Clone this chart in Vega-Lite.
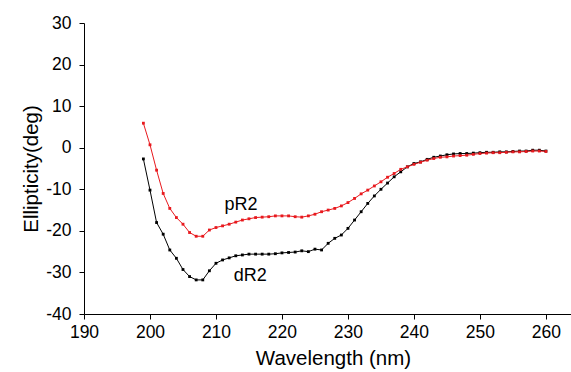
{
  "$schema": "https://vega.github.io/schema/vega-lite/v6.json",
  "width": 487,
  "height": 291,
  "autosize": "none",
  "padding": {"left": 84, "top": 23, "right": 0, "bottom": 58},
  "background": "white",
  "config": {
    "view": {"stroke": null},
    "font": "Liberation Sans",
    "axis": {
      "grid": false,
      "domainColor": "#000000",
      "domainWidth": 1,
      "tickColor": "#000000",
      "tickWidth": 1,
      "labelColor": "#000000",
      "titleColor": "#000000",
      "labelFont": "Liberation Sans",
      "titleFont": "Liberation Sans",
      "labelFontSize": 17.5,
      "titleFontSize": 20.5,
      "titleFontWeight": "normal",
      "labelFlush": false
    }
  },
  "data": {
    "values": [
      {"wl":199,"val":-2.7,"s":"dR2"},{"wl":200,"val":-10.2,"s":"dR2"},{"wl":201,"val":-18.0,"s":"dR2"},{"wl":202,"val":-20.8,"s":"dR2"},{"wl":203,"val":-24.6,"s":"dR2"},{"wl":204,"val":-26.6,"s":"dR2"},{"wl":205,"val":-29.3,"s":"dR2"},{"wl":206,"val":-31.0,"s":"dR2"},{"wl":207,"val":-31.8,"s":"dR2"},{"wl":208,"val":-31.8,"s":"dR2"},{"wl":209,"val":-29.6,"s":"dR2"},{"wl":210,"val":-27.8,"s":"dR2"},{"wl":211,"val":-27.0,"s":"dR2"},{"wl":212,"val":-26.5,"s":"dR2"},{"wl":213,"val":-26.0,"s":"dR2"},{"wl":214,"val":-25.8,"s":"dR2"},{"wl":215,"val":-25.6,"s":"dR2"},{"wl":216,"val":-25.6,"s":"dR2"},{"wl":217,"val":-25.6,"s":"dR2"},{"wl":218,"val":-25.6,"s":"dR2"},{"wl":219,"val":-25.5,"s":"dR2"},{"wl":220,"val":-25.3,"s":"dR2"},{"wl":221,"val":-25.2,"s":"dR2"},{"wl":222,"val":-25.1,"s":"dR2"},{"wl":223,"val":-24.8,"s":"dR2"},{"wl":224,"val":-25.0,"s":"dR2"},{"wl":225,"val":-24.4,"s":"dR2"},{"wl":226,"val":-24.6,"s":"dR2"},{"wl":227,"val":-23.0,"s":"dR2"},{"wl":228,"val":-21.8,"s":"dR2"},{"wl":229,"val":-21.0,"s":"dR2"},{"wl":230,"val":-19.4,"s":"dR2"},{"wl":231,"val":-17.4,"s":"dR2"},{"wl":232,"val":-15.4,"s":"dR2"},{"wl":233,"val":-13.4,"s":"dR2"},{"wl":234,"val":-11.6,"s":"dR2"},{"wl":235,"val":-10.0,"s":"dR2"},{"wl":236,"val":-8.5,"s":"dR2"},{"wl":237,"val":-7.0,"s":"dR2"},{"wl":238,"val":-5.8,"s":"dR2"},{"wl":239,"val":-4.6,"s":"dR2"},{"wl":240,"val":-3.8,"s":"dR2"},{"wl":241,"val":-3.4,"s":"dR2"},{"wl":242,"val":-2.8,"s":"dR2"},{"wl":243,"val":-2.3,"s":"dR2"},{"wl":244,"val":-2.0,"s":"dR2"},{"wl":245,"val":-1.7,"s":"dR2"},{"wl":246,"val":-1.5,"s":"dR2"},{"wl":247,"val":-1.4,"s":"dR2"},{"wl":248,"val":-1.4,"s":"dR2"},{"wl":249,"val":-1.3,"s":"dR2"},{"wl":250,"val":-1.2,"s":"dR2"},{"wl":251,"val":-1.1,"s":"dR2"},{"wl":252,"val":-1.1,"s":"dR2"},{"wl":253,"val":-1.0,"s":"dR2"},{"wl":254,"val":-1.0,"s":"dR2"},{"wl":255,"val":-0.9,"s":"dR2"},{"wl":256,"val":-0.8,"s":"dR2"},{"wl":257,"val":-0.8,"s":"dR2"},{"wl":258,"val":-0.6,"s":"dR2"},{"wl":259,"val":-0.6,"s":"dR2"},{"wl":260,"val":-0.8,"s":"dR2"},
      {"wl":199,"val":5.9,"s":"pR2"},{"wl":200,"val":0.7,"s":"pR2"},{"wl":201,"val":-5.4,"s":"pR2"},{"wl":202,"val":-11.0,"s":"pR2"},{"wl":203,"val":-14.6,"s":"pR2"},{"wl":204,"val":-16.8,"s":"pR2"},{"wl":205,"val":-18.4,"s":"pR2"},{"wl":206,"val":-20.4,"s":"pR2"},{"wl":207,"val":-21.3,"s":"pR2"},{"wl":208,"val":-21.3,"s":"pR2"},{"wl":209,"val":-19.8,"s":"pR2"},{"wl":210,"val":-19.2,"s":"pR2"},{"wl":211,"val":-18.8,"s":"pR2"},{"wl":212,"val":-18.4,"s":"pR2"},{"wl":213,"val":-17.9,"s":"pR2"},{"wl":214,"val":-17.4,"s":"pR2"},{"wl":215,"val":-17.1,"s":"pR2"},{"wl":216,"val":-16.8,"s":"pR2"},{"wl":217,"val":-16.7,"s":"pR2"},{"wl":218,"val":-16.6,"s":"pR2"},{"wl":219,"val":-16.4,"s":"pR2"},{"wl":220,"val":-16.4,"s":"pR2"},{"wl":221,"val":-16.4,"s":"pR2"},{"wl":222,"val":-16.6,"s":"pR2"},{"wl":223,"val":-16.7,"s":"pR2"},{"wl":224,"val":-16.4,"s":"pR2"},{"wl":225,"val":-16.0,"s":"pR2"},{"wl":226,"val":-15.4,"s":"pR2"},{"wl":227,"val":-15.0,"s":"pR2"},{"wl":228,"val":-14.6,"s":"pR2"},{"wl":229,"val":-14.0,"s":"pR2"},{"wl":230,"val":-13.2,"s":"pR2"},{"wl":231,"val":-12.2,"s":"pR2"},{"wl":232,"val":-11.1,"s":"pR2"},{"wl":233,"val":-10.2,"s":"pR2"},{"wl":234,"val":-9.2,"s":"pR2"},{"wl":235,"val":-8.2,"s":"pR2"},{"wl":236,"val":-7.1,"s":"pR2"},{"wl":237,"val":-6.2,"s":"pR2"},{"wl":238,"val":-5.2,"s":"pR2"},{"wl":239,"val":-4.6,"s":"pR2"},{"wl":240,"val":-4.0,"s":"pR2"},{"wl":241,"val":-3.5,"s":"pR2"},{"wl":242,"val":-3.0,"s":"pR2"},{"wl":243,"val":-2.6,"s":"pR2"},{"wl":244,"val":-2.3,"s":"pR2"},{"wl":245,"val":-2.2,"s":"pR2"},{"wl":246,"val":-2.0,"s":"pR2"},{"wl":247,"val":-1.9,"s":"pR2"},{"wl":248,"val":-1.8,"s":"pR2"},{"wl":249,"val":-1.6,"s":"pR2"},{"wl":250,"val":-1.4,"s":"pR2"},{"wl":251,"val":-1.3,"s":"pR2"},{"wl":252,"val":-1.2,"s":"pR2"},{"wl":253,"val":-1.2,"s":"pR2"},{"wl":254,"val":-1.1,"s":"pR2"},{"wl":255,"val":-1.0,"s":"pR2"},{"wl":256,"val":-1.0,"s":"pR2"},{"wl":257,"val":-0.9,"s":"pR2"},{"wl":258,"val":-0.8,"s":"pR2"},{"wl":259,"val":-0.8,"s":"pR2"},{"wl":260,"val":-0.9,"s":"pR2"}
    ]
  },
  "layer": [
    {
      "mark": {"type": "line", "strokeWidth": 1, "point": {"shape": "square", "size": 8, "filled": true}},
      "encoding": {
        "x": {
          "field": "wl", "type": "quantitative",
          "scale": {"domain": [190, 263.8], "nice": false, "zero": false},
          "axis": {
            "title": "Wavelength (nm)",
            "values": [190,195,200,205,210,215,220,225,230,235,240,245,250,255,260],
            "labelExpr": "datum.value % 10 === 0 ? '' + datum.value : ''",
            "tickSize": {"condition": {"test": "datum.value % 10 === 0", "value": 5}, "value": 3},
            "labelPadding": 4,
            "titlePadding": 8,
            "titleX": 249
          }
        },
        "y": {
          "field": "val", "type": "quantitative",
          "scale": {"domain": [-40, 30], "nice": false},
          "axis": {
            "title": "Ellipticity(deg)",
            "values": [-40,-35,-30,-25,-20,-15,-10,-5,0,5,10,15,20,25,30],
            "labelExpr": "datum.value % 10 === 0 ? '' + datum.value : ''",
            "tickSize": {"condition": {"test": "datum.value % 10 === 0", "value": 5}, "value": 3},
            "labelPadding": 8,
            "titlePadding": 4
          }
        },
        "color": {
          "field": "s", "type": "nominal",
          "scale": {"domain": ["dR2", "pR2"], "range": ["#000000", "#e8191e"]},
          "legend": null
        },
        "detail": {"field": "s"}
      }
    },
    {
      "data": {
        "values": [
          {"wl": 213.8, "val": -13.8, "label": "pR2"},
          {"wl": 215.2, "val": -30.9, "label": "dR2"}
        ]
      },
      "mark": {"type": "text", "font": "Liberation Sans", "fontSize": 18, "color": "#000000", "baseline": "middle", "align": "center"},
      "encoding": {
        "x": {"field": "wl", "type": "quantitative"},
        "y": {"field": "val", "type": "quantitative"},
        "text": {"field": "label"}
      }
    }
  ]
}
